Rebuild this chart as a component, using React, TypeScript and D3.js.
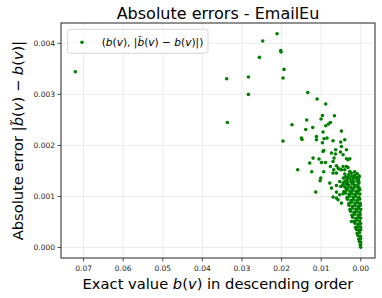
import React from 'react';
import * as d3 from 'd3';

// exact betweenness b(v) and absolute error |b~(v) - b(v)|
const exactValues = [
  0.0721, 0.03386, 0.02838, 0.02838, 0.02476, 0.0256, 0.02115, 0.02022, 0.02014, 0.01938,
  0.01963, 0.01339, 0.01104, 0.03369, 0.01963, 0.01736, 0.01365, 0.01213, 0.0139, 0.01499,
  0.01483, 0.01119, 0.01119, 0.00884, 0.00968, 0.01003, 0.00665, 0.00766, 0.00816, 0.00884,
  0.00953, 0.00488, 0.00927, 0.00852, 0.00968, 0.007, 0.00505, 0.00404, 0.00488, 0.00632,
  0.00953, 0.00935, 0.0074, 0.00639, 0.00513, 0.00361, 0.00447, 0.01205, 0.01054, 0.00993,
  0.00892, 0.01289, 0.007, 0.00675, 0.00361, 0.00321, 0.00766, 0.00614, 0.00682, 0.00548,
  0.007, 0.00614, 0.01592, 0.01238, 0.00935, 0.01011, 0.01028, 0.00783, 0.0074, 0.00614,
  0.01137, 0.00614, 0.00361, 0.00321, 0.00404, 0.00278, 0.00235, 0.00404, 0.00321, 0.00195,
  0.00531, 0.00447, 0.00505, 0.007, 0.00614, 0.00531, 0.00447, 0.00068, 0.00025, 0.00051,
  0.00574, 0.00488, 0.00235, 0.00574, 0.00488, 0.00447, 0.00278, 0.00152, 0.00088, 0.00051,
  0.00379, 0.00303, 0.00227, 0.00152, 0.00101, 0.00038,
  0.00441, 0.00349, 0.00284, 0.00196, 0.00131, 0.00058,
  0.00398, 0.00333, 0.00247, 0.00181, 0.00097, 0.00046,
  0.00462, 0.00373, 0.00309, 0.00221, 0.00157, 0.00072,
  0.00398, 0.00335, 0.00247, 0.00183, 0.00096, 0.00041,
  0.00425, 0.0036, 0.00272, 0.00208, 0.0012, 0.00055,
  0.00384, 0.00298, 0.00232, 0.00147, 0.00081, 0.00022,
  0.00349, 0.00283, 0.00197, 0.00131, 0.00047,
  0.00334, 0.00248, 0.00182, 0.00096, 0.00028,
  0.00298, 0.00232, 0.00147, 0.0008, 0.00015,
  0.00296, 0.0021, 0.00144, 0.00059, 0.00011,
  0.00273, 0.00207, 0.00121, 0.00055, 0.00003,
  0.00258, 0.00172, 0.00106, 0.00022,
  0.00222, 0.00157, 0.00072, 0.00015,
  0.00207, 0.00121, 0.00055, 0.00003,
  0.00172, 0.00106, 0.00029,
  0.00147, 0.00072, 0.00004,
  0.00131, 0.00067, 0.00003,
  0.0011, 0.00048, 0.00002,
  0.00092, 0.00028,
  0.00072, 0.00011,
  0.00053, 0.00003,
  0.00036, 0.00002,
  0.00015, 0.00002,
  0.00001,
];

const absErrors = [
  0.003444, 0.003307, 0.00334, 0.003, 0.004045, 0.003724, 0.004189, 0.003861, 0.00383, 0.003489,
  0.00332, 0.003038, 0.002909, 0.00245, 0.002085, 0.002405, 0.002497, 0.002352, 0.002313, 0.002144,
  0.002117, 0.002176, 0.002111, 0.002811, 0.002587, 0.002517, 0.002581, 0.00245, 0.002419, 0.002385,
  0.002262, 0.002281, 0.002131, 0.002144, 0.002052, 0.002091, 0.002066, 0.002111, 0.00198, 0.001915,
  0.001882, 0.001901, 0.00185, 0.001831, 0.00187, 0.001915, 0.001817, 0.001752, 0.001733, 0.001666,
  0.001666, 0.001654, 0.001686, 0.001752, 0.001739, 0.001719, 0.001588, 0.001601, 0.001523, 0.001537,
  0.001458, 0.001458, 0.001523, 0.001484, 0.001484, 0.00136, 0.001307, 0.001262, 0.001164, 0.001215,
  0.001086, 0.001086, 0.001588, 0.001568, 0.001523, 0.00149, 0.001458, 0.001439, 0.00138, 0.001392,
  0.001294, 0.001262, 0.001196, 0.000988, 0.000968, 0.001033, 0.001053, 0.001196, 0.001131, 0.000968,
  0.000935, 0.00087, 0.00051, 0.001556, 0.001523, 0.001588, 0.001739, 0.001484, 0.001445, 0.001367,
  0.001385, 0.00143, 0.001395, 0.00142, 0.001372, 0.001398,
  0.001361, 0.00133, 0.001352, 0.001338, 0.001366, 0.001325,
  0.0013, 0.001272, 0.001296, 0.001281, 0.001305, 0.001276,
  0.001214, 0.001241, 0.001222, 0.001248, 0.001217, 0.001235,
  0.001183, 0.001158, 0.001178, 0.001162, 0.001185, 0.001166,
  0.001098, 0.001125, 0.001104, 0.00112, 0.001101, 0.001117,
  0.001066, 0.001041, 0.00106, 0.001045, 0.001063, 0.001048,
  0.000981, 0.001006, 0.000988, 0.001001, 0.000985,
  0.000948, 0.000924, 0.000941, 0.000927, 0.000945,
  0.000864, 0.000888, 0.00087, 0.000883, 0.000866,
  0.00083, 0.000806, 0.000825, 0.00081, 0.000828,
  0.000747, 0.00077, 0.000752, 0.000766, 0.00075,
  0.000712, 0.00069, 0.000708, 0.000695,
  0.00063, 0.000652, 0.000636, 0.000648,
  0.000594, 0.000572, 0.000589, 0.000576,
  0.000515, 0.000535, 0.000519,
  0.000476, 0.000458, 0.000471,
  0.000398, 0.000415, 0.000401,
  0.000356, 0.00034, 0.000352,
  0.000281, 0.000295,
  0.000236, 0.000222,
  0.000165, 0.000177,
  0.000116, 0.000108,
  0.000049, 0.000058,
  0.000004,
];

const xTicks = [0.07, 0.06, 0.05, 0.04, 0.03, 0.02, 0.01, 0.0];
const yTicks = [0, 0.001, 0.002, 0.003, 0.004];
const title = 'Absolute errors - EmailEu';

const FONT = '"DejaVu Sans", sans-serif';
const GREEN = '#008000';

export default function App() {
  const width = 382;
  const height = 298;
  const margin = { top: 23, right: 7, bottom: 40, left: 61 };

  const points = exactValues.map((b, i) => ({ b, err: absErrors[i] }));

  // matplotlib-style 5% margins, x reversed (descending order)
  const [xMin, xMax] = d3.extent(exactValues) as [number, number];
  const padX = (xMax - xMin) * 0.05;
  const x = d3.scaleLinear()
    .domain([xMax + padX, xMin - padX])
    .range([margin.left, width - margin.right]);

  const [yMin, yMax] = d3.extent(absErrors) as [number, number];
  const padY = (yMax - yMin) * 0.05;
  const y = d3.scaleLinear()
    .domain([yMin - padY, yMax + padY])
    .range([height - margin.bottom, margin.top]);

  const left = margin.left;
  const right = width - margin.right;
  const top = margin.top;
  const bottom = height - margin.bottom;
  const cx = (left + right) / 2;
  const cy = (top + bottom) / 2;

  const fx = d3.format('.2f');
  const fy = d3.format('.3f');

  const it = (s: string) => <tspan fontStyle="italic">{s}</tspan>;

  return (
    <div style={{ position: 'fixed', left: 0, top: 0 }}>
      <svg width={width} height={height} style={{ display: 'block', background: '#fff' }} fontFamily={FONT}>
        {/* grid */}
        <g stroke="#ebebeb" strokeWidth={1}>
          {xTicks.map(t => (
            <line key={'gx' + t} x1={x(t)} x2={x(t)} y1={top} y2={bottom} />
          ))}
          {yTicks.map(t => (
            <line key={'gy' + t} x1={left} x2={right} y1={y(t)} y2={y(t)} />
          ))}
        </g>

        {/* points */}
        <g fill={GREEN}>
          {points.map((d, i) => (
            <circle key={i} cx={x(d.b)} cy={y(d.err)} r={1.8} />
          ))}
        </g>

        {/* frame */}
        <rect x={left} y={top} width={right - left} height={bottom - top} fill="none" stroke="#222" strokeWidth={1} />

        {/* x axis */}
        <g fontSize={7.5} fill="#222" textAnchor="middle">
          {xTicks.map(t => (
            <g key={'tx' + t}>
              <line x1={x(t)} x2={x(t)} y1={bottom} y2={bottom + 3.5} stroke="#222" strokeWidth={0.8} />
              <text x={x(t)} y={bottom + 13}>{fx(t)}</text>
            </g>
          ))}
        </g>

        {/* y axis */}
        <g fontSize={7.5} fill="#222" textAnchor="end">
          {yTicks.map(t => (
            <g key={'ty' + t}>
              <line x1={left - 3.5} x2={left} y1={y(t)} y2={y(t)} stroke="#222" strokeWidth={0.8} />
              <text x={left - 6} y={y(t)} dy="0.35em">{fy(t)}</text>
            </g>
          ))}
        </g>

        {/* title */}
        <text x={cx} y={19} textAnchor="middle" fontSize={16} fill="#000">{title}</text>

        {/* axis labels */}
        <text x={cx} y={288.5} textAnchor="middle" fontSize={14.7} fill="#000">
          Exact value {it('b')}({it('v')}) in descending order
        </text>
        <text transform={`translate(23,${cy}) rotate(-90)`} textAnchor="middle" fontSize={14.7} fill="#000">
          Absolute error |{it('b\u0303')}({it('v')}) − {it('b')}({it('v')})|
        </text>

        {/* legend */}
        <g>
          <rect x={67.7} y={29.3} width={140.3} height={24} rx={2.5} fill="#fff" fillOpacity={0.8} stroke="#d5d5d5" strokeWidth={1} />
          <circle cx={82} cy={42.3} r={1.8} fill={GREEN} />
          <text x={101.7} y={46} fontSize={10.6} fill="#000">
            ({it('b')}({it('v')}), |{it('b\u0303')}({it('v')}) − {it('b')}({it('v')})|)
          </text>
        </g>
      </svg>
    </div>
  );
}
